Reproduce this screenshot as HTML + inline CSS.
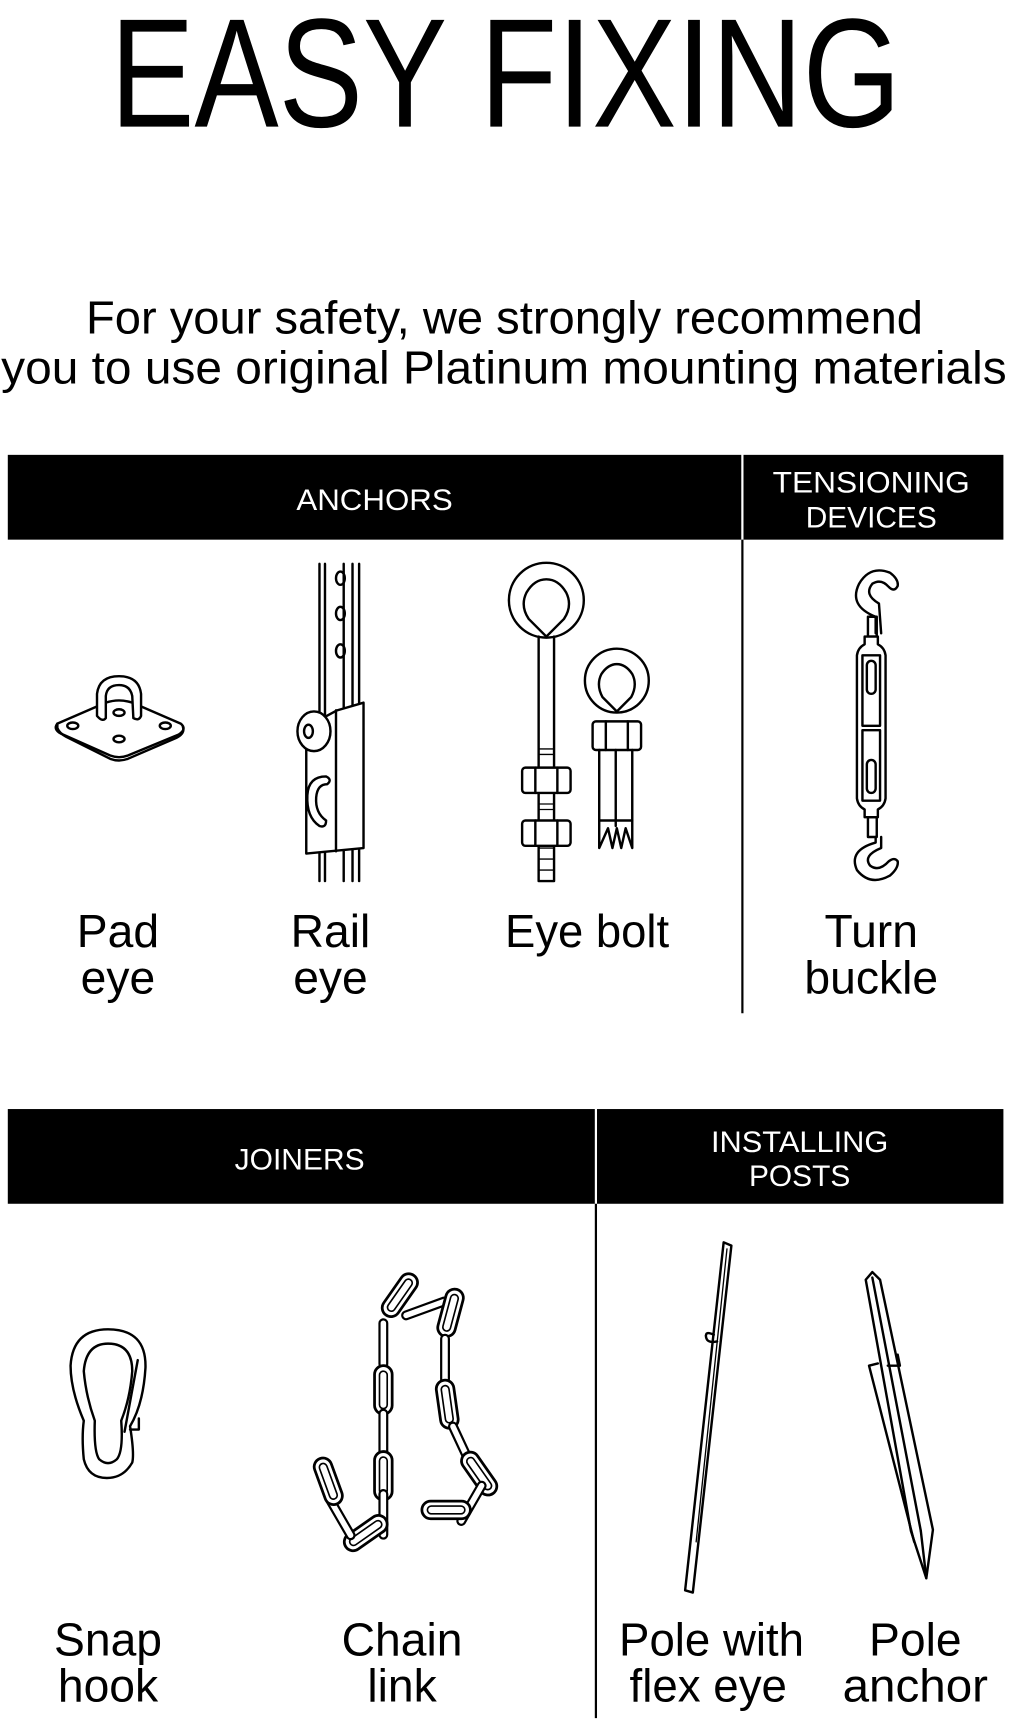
<!DOCTYPE html>
<html><head><meta charset="utf-8"><style>
html,body{margin:0;padding:0;background:#fff;}
svg{display:block}
text{font-family:"Liberation Sans",sans-serif;fill:#000}
</style></head><body>
<svg width="1009" height="1728" viewBox="0 0 916 1569" xmlns="http://www.w3.org/2000/svg">
<defs>
<g id="link"><rect x="-8" y="-22" width="16" height="44" rx="8" fill="#fff" stroke="#000" stroke-width="2.5"/><rect x="-3.5" y="-17" width="7" height="34" rx="3.5" fill="none" stroke="#000" stroke-width="1.5"/></g>
<g id="bar"><rect x="-3.5" y="-22" width="7" height="44" rx="3.5" fill="#fff" stroke="#000" stroke-width="2"/></g>
</defs>
<text x="100" y="115" font-size="141" textLength="718" lengthAdjust="spacingAndGlyphs">EASY FIXING</text>
<text x="78" y="303" font-size="42" textLength="760" lengthAdjust="spacingAndGlyphs">For your safety, we strongly recommend</text>
<text x="1" y="348" font-size="42" textLength="913" lengthAdjust="spacingAndGlyphs">you to use original Platinum mounting materials</text>

<rect x="7" y="413" width="666" height="77" fill="#000"/>
<rect x="675" y="413" width="236" height="77" fill="#000"/>
<line x1="674" y1="490" x2="674" y2="920" stroke="#000" stroke-width="2"/>
<text x="340" y="463" font-size="27" style="fill:#fff" text-anchor="middle" textLength="142" lengthAdjust="spacingAndGlyphs">ANCHORS</text>
<text x="791" y="447" font-size="27" style="fill:#fff" text-anchor="middle" textLength="179" lengthAdjust="spacingAndGlyphs">TENSIONING</text>
<text x="791" y="479" font-size="27" style="fill:#fff" text-anchor="middle" textLength="119" lengthAdjust="spacingAndGlyphs">DEVICES</text>

<rect x="7" y="1007" width="533" height="86" fill="#000"/>
<rect x="542" y="1007" width="369" height="86" fill="#000"/>
<line x1="541" y1="1093" x2="541" y2="1560" stroke="#000" stroke-width="2"/>
<text x="272" y="1062" font-size="27" style="fill:#fff" text-anchor="middle" textLength="118" lengthAdjust="spacingAndGlyphs">JOINERS</text>
<text x="726" y="1046" font-size="27" style="fill:#fff" text-anchor="middle" textLength="161" lengthAdjust="spacingAndGlyphs">INSTALLING</text>
<text x="726" y="1077" font-size="27" style="fill:#fff" text-anchor="middle" textLength="92" lengthAdjust="spacingAndGlyphs">POSTS</text>

<g font-size="42" text-anchor="middle">
<text x="107" y="860">Pad</text><text x="107" y="902">eye</text>
<text x="300" y="860">Rail</text><text x="300" y="902">eye</text>
<text x="533" y="860" textLength="149" lengthAdjust="spacingAndGlyphs">Eye bolt</text>
<text x="791" y="860">Turn</text><text x="791" y="902">buckle</text>
<text x="98" y="1503">Snap</text><text x="98" y="1545">hook</text>
<text x="365" y="1503">Chain</text><text x="365" y="1545">link</text>
<text x="646" y="1503" textLength="168" lengthAdjust="spacingAndGlyphs">Pole with</text><text x="643" y="1545" textLength="143" lengthAdjust="spacingAndGlyphs">flex eye</text>
<text x="831" y="1503">Pole</text><text x="831" y="1545" textLength="132" lengthAdjust="spacingAndGlyphs">anchor</text>
</g>

<g fill="none" stroke="#000" stroke-width="2.2" stroke-linejoin="round" stroke-linecap="round">
<!-- pad eye -->
<path d="M52 657 Q48 662 55 666 L100 686 Q108 689 116 686 L162 667 Q170 662 164 657 L120 638 Q108 634 96 638 Z" fill="#fff"/>
<path d="M52 657 L52 661 Q54 666 60 669 L100 689 Q108 692 116 689 L160 670 Q168 666 166 660"/>
<ellipse cx="66" cy="659" rx="5" ry="3"/><ellipse cx="150" cy="659" rx="5" ry="3"/><ellipse cx="108" cy="647" rx="5" ry="3"/><ellipse cx="108" cy="671" rx="5" ry="3"/>
<path d="M88 650 L88 630 Q90 614 108 614 Q126 614 128 630 L128 650 Q126 655 121 652 L120 632 Q118 622 108 622 Q97 622 96 632 L96 652 Q93 656 88 650 Z" fill="#fff"/>
<!-- rail eye -->
<line x1="290" y1="512" x2="290" y2="800"/><line x1="295" y1="512" x2="295" y2="800"/><line x1="312" y1="512" x2="312" y2="800"/><line x1="320" y1="512" x2="320" y2="800"/><line x1="326" y1="512" x2="326" y2="800"/>
<ellipse cx="309" cy="525" rx="4" ry="6"/><ellipse cx="309" cy="557" rx="4" ry="6"/><ellipse cx="309" cy="591" rx="4" ry="6"/>
<path d="M306 645 L330 638 L330 770 L278 775 L278 660 Z" fill="#fff"/>
<line x1="305" y1="645" x2="305" y2="773"/>
<ellipse cx="285" cy="664" rx="15" ry="18" fill="#fff"/><ellipse cx="280" cy="664" rx="4" ry="6"/>
<path d="M296 705 Q280 705 279 722 Q278 742 290 750 Q296 752 296 745 Q286 738 287 724 Q288 712 297 712 Q302 708 296 705 Z" fill="#fff"/>
<!-- eye bolt 1 -->
<circle cx="496" cy="545" r="34" fill="#fff"/>
<path d="M496 578 L512 562 Q520 550 514 538 Q507 526 496 526 Q485 526 478 538 Q472 550 480 562 Z"/>
<path d="M489 578 L489 800 L503 800 L503 578"/>
<path d="M489 760 L503 760 M489 770 L503 770 M489 780 L503 780 M489 790 L503 790 M489 735 L503 735 M489 730 L503 730 M489 685 L503 685 M489 680 L503 680" stroke-width="1.2"/>
<rect x="474" y="697" width="44" height="23" rx="3" fill="#fff"/><line x1="486" y1="697" x2="486" y2="720"/><line x1="506" y1="697" x2="506" y2="720"/>
<rect x="474" y="745" width="44" height="23" rx="3" fill="#fff"/><line x1="486" y1="745" x2="486" y2="768"/><line x1="506" y1="745" x2="506" y2="768"/>
<!-- eye bolt 2 -->
<circle cx="560" cy="618" r="29" fill="#fff"/>
<path d="M560 646 L573 633 Q579 622 574 612 Q568 603 560 603 Q552 603 546 612 Q541 622 547 633 Z"/>
<rect x="538" y="655" width="44" height="26" rx="3" fill="#fff"/><line x1="550" y1="655" x2="550" y2="681"/><line x1="570" y1="655" x2="570" y2="681"/>
<path d="M544 681 L544 770 L552 752 L556 770 L560 752 L564 770 L568 752 L574 770 L574 681"/>
<line x1="559" y1="681" x2="559" y2="750"/><line x1="544" y1="745" x2="574" y2="745"/>
<!-- turnbuckle -->
<path d="M795 575 L795 560 Q770 550 780 530 Q790 513 808 520 Q816 526 815 532 Q812 538 807 533 Q800 525 792 530 Q784 540 798 548 L800 575"/>
<rect x="788" y="560" width="8" height="18"/>
<path d="M785 578 L797 578 L797 585 Q803 588 804 595 L804 725 Q803 732 797 735 L797 742 L785 742 L785 735 Q779 732 778 725 L778 595 Q779 588 785 585 Z" fill="#fff"/>
<rect x="783" y="595" width="16" height="64"/><rect x="783" y="663" width="16" height="64"/>
<rect x="787" y="600" width="8" height="30" rx="4"/><rect x="787" y="690" width="8" height="30" rx="4"/>
<rect x="788" y="742" width="8" height="18"/>
<path d="M795 760 L795 765 Q770 772 778 790 Q790 805 808 795 Q816 788 815 782 Q812 778 807 782 Q798 792 790 786 Q783 777 800 770 L800 760"/>
<!-- snap hook -->
<path d="M98 1207 Q133 1207 132 1242 Q130 1275 118 1295 Q122 1320 120 1328 Q112 1342 97 1342 Q80 1342 76 1325 Q74 1305 76 1290 Q64 1262 64 1240 Q66 1207 98 1207 Z"/>
<path d="M98 1220 Q120 1220 120 1245 Q118 1270 110 1290 Q112 1318 106 1325 Q98 1332 90 1325 Q85 1318 86 1290 Q78 1268 76 1245 Q78 1220 98 1220 Z"/>
<path d="M125 1235 L113 1300 M118 1298 L126 1298 L126 1288"/>
<!-- chain -->
<use href="#link" transform="translate(363 1176) rotate(35)"/>
<use href="#bar" transform="translate(386 1188) rotate(70)"/>
<use href="#link" transform="translate(409 1192) rotate(15)"/>
<use href="#bar" transform="translate(348 1220)"/>
<use href="#link" transform="translate(348 1262)"/>
<use href="#bar" transform="translate(348 1302)"/>
<use href="#link" transform="translate(348 1340)"/>
<use href="#bar" transform="translate(348 1375)"/>
<use href="#link" transform="translate(332 1392) rotate(55)"/>
<use href="#bar" transform="translate(309 1378) rotate(-30)"/>
<use href="#link" transform="translate(298 1345) rotate(-20)"/>
<use href="#bar" transform="translate(404 1234)"/>
<use href="#link" transform="translate(406 1275) rotate(-8)"/>
<use href="#bar" transform="translate(419 1312) rotate(-25)"/>
<use href="#link" transform="translate(435 1338) rotate(-35)"/>
<use href="#bar" transform="translate(428 1365) rotate(30)"/>
<use href="#link" transform="translate(405 1371) rotate(90)"/>
<!-- pole with flex eye -->
<path d="M657 1128 L664 1131 L629 1446 L622 1444 Z" fill="#fff"/>
<line x1="660" y1="1134" x2="632" y2="1400" stroke-width="1.2"/>
<path d="M648 1212 Q640 1208 641 1214 Q642 1220 651 1218"/>
<!-- pole anchor -->
<path d="M786 1162 L792 1155 L799 1162 L847 1389 L841 1433 L827 1390 Z" fill="#fff"/>
<line x1="792" y1="1160" x2="836" y2="1390"/>
<line x1="836" y1="1390" x2="841" y2="1433"/>
<path d="M789 1240 L830 1400 M789 1240 L797 1238 M815 1230 L817 1240 L806 1240"/>
</g>
</svg>
</body></html>
